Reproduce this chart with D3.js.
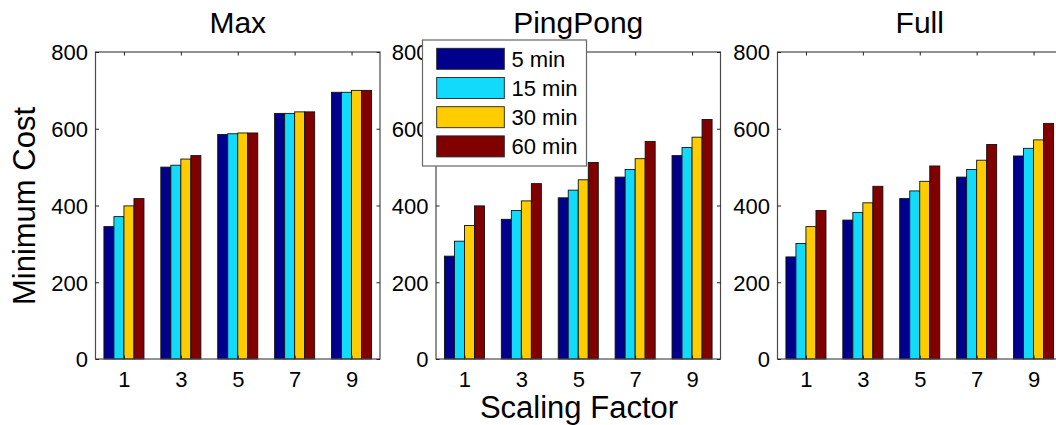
<!DOCTYPE html>
<html><head><meta charset="utf-8">
<script src="https://cdn.jsdelivr.net/npm/d3@7"></script>
<style>
html,body{margin:0;padding:0;background:#fff;overflow:hidden;}
svg{display:block;font-family:"Liberation Sans",Arial,Helvetica,sans-serif;}
</style></head>
<body>
<svg id="chart" width="1056" height="425"></svg>
<script>
// ---- data ----
const scalingFactors = [1, 3, 5, 7, 9];
const seriesNames = ["5 min", "15 min", "30 min", "60 min"];
const panelTitles = ["Max", "PingPong", "Full"];
const yTicks = [0, 200, 400, 600, 800];

const max5  = [345, 500, 585, 640, 695];
const max15 = [371, 505, 587, 640, 695];
const max30 = [399, 521, 589, 644, 700];
const max60 = [418, 530, 589, 644, 700];

const ping5  = [268, 364, 420, 474, 530];
const ping15 = [307, 387, 440, 494, 551];
const ping30 = [348, 412, 467, 522, 578];
const ping60 = [399, 457, 512, 567, 624];

const full5  = [266, 362, 418, 474, 529];
const full15 = [301, 382, 438, 494, 549];
const full30 = [345, 407, 463, 518, 571];
const full60 = [387, 450, 503, 559, 614];

const panelData = [
  [max5, max15, max30, max60],
  [ping5, ping15, ping30, ping60],
  [full5, full15, full30, full60]
];

// ---- styles / layout ----
const colors = ["#00008C", "#12DAFA", "#FFCC00", "#800000"];
const panelLefts = [95.5, 436, 777.5];
const panelW = 284.5, plotTop = 52, plotBottom = 359;
const barW = 0.352; // in x units
const axisColor = "#4a4a4a";

const svg = d3.select("#chart");

panelTitles.forEach((title, p) => {
  const x = d3.scaleLinear().domain([0, 10]).range([panelLefts[p], panelLefts[p] + panelW]);
  const y = d3.scaleLinear().domain([0, 800]).range([plotBottom, plotTop]);
  const g = svg.append("g");

  // bars
  panelData[p].forEach((vals, s) => {
    g.selectAll(null).data(vals).enter().append("rect")
      .attr("x", (d, i) => x(scalingFactors[i] + (s - 2) * barW))
      .attr("width", x(barW) - x(0))
      .attr("y", d => y(d))
      .attr("height", d => y(0) - y(d))
      .attr("fill", colors[s])
      .attr("stroke", "#111")
      .attr("stroke-width", 0.9);
  });

  // box
  g.append("rect")
    .attr("x", x(0)).attr("y", y(800))
    .attr("width", x(10) - x(0)).attr("height", y(0) - y(800))
    .attr("fill", "none").attr("stroke", axisColor).attr("stroke-width", 1.2);

  // axes (inner ticks, MATLAB style)
  const tl = 3.5;
  const xb = g.append("g").attr("transform", `translate(0,${y(0)})`)
    .call(d3.axisBottom(x).tickValues(scalingFactors).tickSizeInner(-tl).tickSizeOuter(0).tickPadding(8).tickFormat(d3.format("d")));
  const xt = g.append("g").attr("transform", `translate(0,${y(800)})`)
    .call(d3.axisTop(x).tickValues(scalingFactors).tickSizeInner(-tl).tickSizeOuter(0).tickFormat(""));
  const yl = g.append("g").attr("transform", `translate(${x(0)},0)`)
    .call(d3.axisLeft(y).tickValues(yTicks).tickSizeInner(-tl).tickSizeOuter(0).tickPadding(7).tickFormat(d3.format("d")));
  const yr = g.append("g").attr("transform", `translate(${x(10)},0)`)
    .call(d3.axisRight(y).tickValues(yTicks).tickSizeInner(-tl).tickSizeOuter(0).tickFormat(""));
  [xb, xt, yl, yr].forEach(a => {
    a.select(".domain").remove();
    a.selectAll(".tick line").attr("stroke", "#222").attr("stroke-width", 1);
  });
  xb.selectAll(".tick text").attr("font-size", 22).attr("fill", "#000")
    .attr("dy", null).attr("y", 27.5);
  yl.selectAll(".tick text").attr("font-size", 22).attr("fill", "#000")
    .attr("dy", "0.36em").attr("x", -7.5);

  // title
  svg.append("text")
    .attr("x", (x(0) + x(10)) / 2).attr("y", 32.5)
    .attr("text-anchor", "middle").attr("font-size", 30).attr("fill", "#000")
    .text(title);
});

// axis labels
svg.append("text")
  .attr("transform", "translate(35,206) rotate(-90)")
  .attr("text-anchor", "middle").attr("font-size", 31).attr("fill", "#000")
  .text("Minimum Cost");
svg.append("text")
  .attr("x", 579).attr("y", 418)
  .attr("text-anchor", "middle").attr("font-size", 31).attr("fill", "#000")
  .text("Scaling Factor");

// legend
const lg = svg.append("g");
lg.append("rect").attr("x", 422.5).attr("y", 40).attr("width", 164).attr("height", 126)
  .attr("fill", "#fff").attr("stroke", "#666").attr("stroke-width", 1.2);
seriesNames.forEach((name, i) => {
  const ry = 48.3 + i * 29.2;
  lg.append("rect").attr("x", 436.7).attr("y", ry).attr("width", 67.6).attr("height", 21)
    .attr("fill", colors[i]).attr("stroke", "#222").attr("stroke-width", 0.9);
  lg.append("text").attr("x", 511.5).attr("y", ry + 10.5).attr("dy", "0.36em")
    .attr("font-size", 22).attr("fill", "#000").text(name);
});
</script>
</body></html>
